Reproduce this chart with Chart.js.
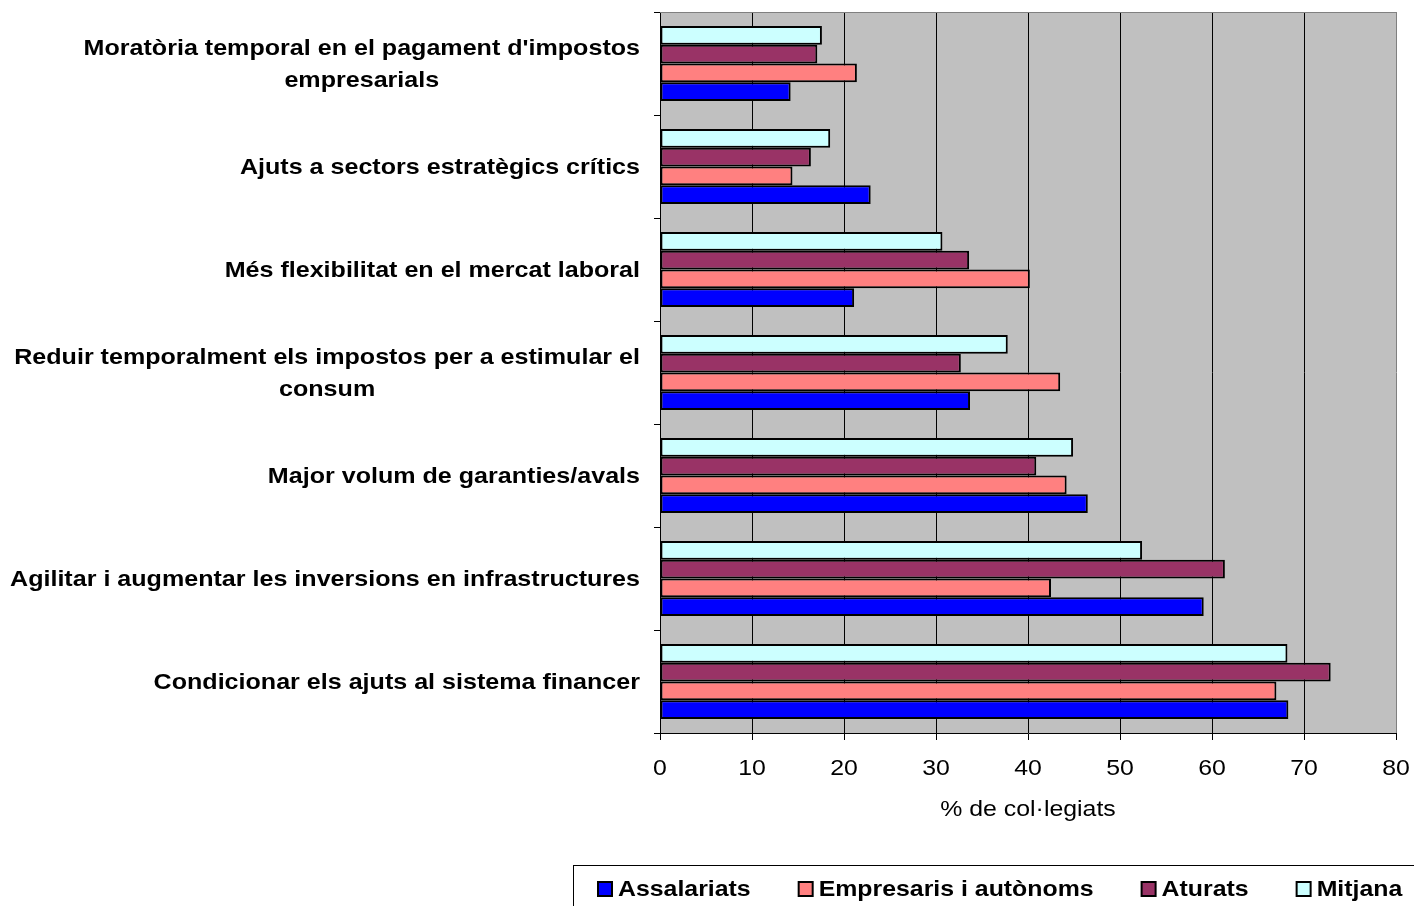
<!DOCTYPE html>
<html>
<head>
<meta charset="utf-8">
<script src="https://cdn.jsdelivr.net/npm/chart.js@4.4.1/dist/chart.umd.min.js"></script>
<style>
  html, body { margin: 0; padding: 0; background: #ffffff; }
  #wrap { width: 1414px; height: 906px; }
</style>
</head>
<body>
<div id="wrap"><canvas id="chart" width="1414" height="906"></canvas></div>
<script>
// --- Data ---
const categories = [
  ["Moratòria temporal en el pagament d'impostos", "empresarials"],
  ["Ajuts a sectors estratègics crítics"],
  ["Més flexibilitat en el mercat laboral"],
  ["Reduir temporalment els impostos per a estimular el", "consum"],
  ["Major volum de garanties/avals"],
  ["Agilitar i augmentar les inversions en infrastructures"],
  ["Condicionar els ajuts al sistema financer"]
];
const seriesNames = ["Assalariats", "Empresaris i autònoms", "Aturats", "Mitjana"];
const assalariats = [14.2, 22.9, 21.1, 33.7, 46.5, 59.1, 68.3];
const empresaris  = [21.4, 14.4, 40.2, 43.5, 44.2, 42.5, 67.0];
const aturats     = [17.1, 16.4, 33.6, 32.7, 40.9, 61.4, 72.9];
const mitjana     = [17.6, 18.5, 30.7, 37.8, 44.9, 52.4, 68.2];
const xMin = 0, xMax = 80, xStep = 10;
const xTitle = "% de col·legiats";

// Excel text looks a bit stretched sideways, so draw text with a small x scale
const SX = 1.13;
const SX_CAT = 1.14;
const FONT = '"Liberation Sans", Arial, sans-serif';

function stretchedText(ctx, str, x, y, align, sx) {
  ctx.save();
  ctx.translate(x, y);
  ctx.scale(sx || SX, 1);
  ctx.textAlign = align;
  ctx.fillText(str, 0, 0);
  ctx.restore();
}

// --- Plot background, labels, legend ---
const excelLook = {
  id: "excelLook",
  beforeDraw(chart) {
    const a = chart.chartArea;
    const ctx = chart.ctx;
    ctx.save();
    ctx.fillStyle = "#c0c0c0";
    ctx.fillRect(a.left, a.top, a.right - a.left, a.bottom - a.top);
    ctx.restore();
  },
  afterDraw(chart) {
    const ctx = chart.ctx;
    const a = chart.chartArea;
    const xs = chart.scales.x;
    const ys = chart.scales.y;

    // top border of plot area
    ctx.save();
    ctx.strokeStyle = "#808080";
    ctx.lineWidth = 1;
    ctx.beginPath();
    ctx.moveTo(a.left, Math.round(a.top) + 0.5);
    ctx.lineTo(a.right, Math.round(a.top) + 0.5);
    ctx.stroke();

    ctx.fillStyle = "#000";
    ctx.textBaseline = "alphabetic";

    // category labels: block right-aligned, lines centred inside it
    ctx.font = "bold 22px " + FONT;
    categories.forEach((lines, i) => {
      const cy = ys.getPixelForTick(i);
      let maxW = 0;
      lines.forEach(l => { maxW = Math.max(maxW, ctx.measureText(l).width * SX_CAT); });
      const cx = a.left - 20 - maxW / 2;
      lines.forEach((l, j) => {
        const y = cy + (j - (lines.length - 1) / 2) * 32 + 7.5;
        stretchedText(ctx, l, cx, y, "center", SX_CAT);
      });
    });

    // x tick labels
    ctx.font = "22px " + FONT;
    xs.ticks.forEach(t => {
      stretchedText(ctx, String(t.value), xs.getPixelForValue(t.value), a.bottom + 42, "center");
    });

    // x axis title
    stretchedText(ctx, xTitle, (a.left + a.right) / 2, a.bottom + 83, "center");

    // legend
    ctx.strokeStyle = "#000";
    ctx.lineWidth = 1;
    ctx.strokeRect(573.5, 865.5, 900, 100);
    ctx.font = "bold 22px " + FONT;
    let x = 597;
    const items = chart.data.datasets.slice().reverse();
    items.forEach(ds => {
      ctx.fillStyle = "#000";
      ctx.fillRect(x, 881, 16, 16);
      ctx.fillStyle = ds.backgroundColor;
      ctx.fillRect(x + 2, 883, 12, 12);
      ctx.fillStyle = "#000";
      stretchedText(ctx, ds.label, x + 21, 896, "left");
      x += 21 + ctx.measureText(ds.label).width * SX + 47;
    });
    ctx.restore();
  }
};

const barDefaults = { borderColor: "#000000", borderWidth: 2, borderSkipped: false };

const chart = new Chart(document.getElementById("chart"), {
  type: "bar",
  data: {
    labels: categories,
    datasets: [
      { label: seriesNames[3], data: mitjana, backgroundColor: "#ccffff", ...barDefaults },
      { label: seriesNames[2], data: aturats, backgroundColor: "#993366", ...barDefaults },
      { label: seriesNames[1], data: empresaris, backgroundColor: "#ff8080", ...barDefaults },
      { label: seriesNames[0], data: assalariats, backgroundColor: "#0000ff", ...barDefaults }
    ]
  },
  options: {
    responsive: false,
    animation: false,
    indexAxis: "y",
    layout: { padding: { top: 12, right: 18, bottom: 0, left: 0 } },
    datasets: { bar: { categoryPercentage: 0.73, barPercentage: 1.0 } },
    plugins: {
      legend: { display: false },
      tooltip: { enabled: false }
    },
    scales: {
      x: {
        min: xMin,
        max: xMax,
        ticks: { stepSize: xStep, display: false },
        grid: {
          color: c => (c.tick && c.tick.value === xMax ? "#808080" : "#000000"),
          tickColor: "#000000",
          tickLength: 7,
          lineWidth: 1
        },
        border: { color: "#000000", width: 1 },
        afterFit: s => { s.height = 173; }
      },
      y: {
        ticks: { display: false },
        grid: {
          offset: true,
          drawOnChartArea: false,
          color: "#000000",
          tickLength: 6
        },
        border: { color: "#000000", width: 1 },
        afterFit: s => { s.width = 660; }
      }
    }
  },
  plugins: [excelLook]
});
</script>
</body>
</html>
